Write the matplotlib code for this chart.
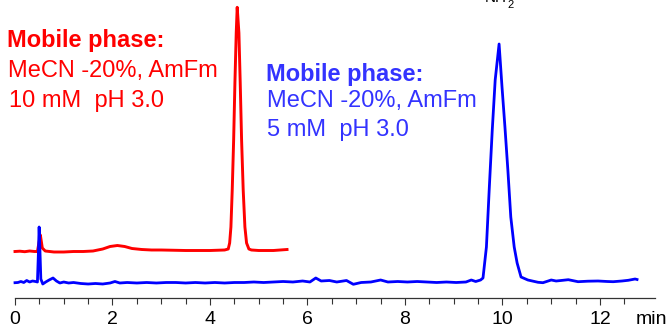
import matplotlib
matplotlib.use("Agg")
import matplotlib.pyplot as plt
import numpy as np

plt.rcParams['font.family'] = ['Liberation Sans', 'DejaVu Sans']

# red trace: MeCN 20%, AmFm 10 mM pH 3.0  (time in min, signal in arbitrary units)
red_time = [0.00, 0.10, 0.20, 0.30, 0.40, 0.46, 0.49, 0.52, 0.56, 0.62, 0.80, 1.00,
            1.20, 1.40, 1.60, 1.80, 1.95, 2.10, 2.25, 2.40, 2.60, 2.80, 3.00, 3.50,
            4.00, 4.30, 4.374, 4.403, 4.429, 4.456, 4.485, 4.511, 4.538, 4.558,
            4.593, 4.620, 4.648, 4.681, 4.716, 4.750, 4.798, 4.85, 5.00, 5.30, 5.58]
red_signal = [41.5, 41.8, 41.3, 42.0, 41.5, 41.5, 50.0, 58.0, 45.0, 42.0, 41.0, 41.0,
              41.5, 41.5, 42.0, 44.0, 46.5, 47.5, 46.5, 44.5, 43.5, 43.0, 43.0, 42.5,
              42.5, 43.0, 44.0, 50.0, 66.0, 103.0, 153.0, 210.0, 260.0, 285.7,
              260.0, 210.0, 153.0, 103.0, 66.0, 50.0, 44.0, 43.0, 42.5, 42.5, 43.5]

# blue trace: MeCN 20%, AmFm 5 mM pH 3.0
blue_time = [0.00, 0.06, 0.12, 0.18, 0.24, 0.30, 0.36, 0.42, 0.46, 0.48, 0.495, 0.51,
             0.53, 0.57, 0.63, 0.70, 0.78, 0.85, 0.92, 1.00, 1.10, 1.20, 1.35, 1.50,
             1.65, 1.80, 1.95, 2.05, 2.15, 2.30, 2.50, 2.70, 2.90, 3.10, 3.30, 3.50,
             3.70, 3.90, 4.10, 4.30, 4.50, 4.70, 4.90, 5.10, 5.30, 5.50, 5.70, 5.90,
             6.05, 6.17, 6.28, 6.45, 6.60, 6.80, 6.94, 7.10, 7.30, 7.50, 7.65, 7.85,
             8.05, 8.25, 8.45, 8.65, 8.85, 9.05, 9.25, 9.36, 9.45, 9.55, 9.60, 9.67,
             9.73, 9.79, 9.85, 9.93, 9.99, 10.05, 10.11, 10.17, 10.24, 10.30, 10.38,
             10.52, 10.73, 10.83, 11.00, 11.10, 11.20, 11.35, 11.55, 11.75, 11.96,
             12.15, 12.27, 12.45, 12.58, 12.72, 12.76]
blue_signal = [10.3, 10.5, 11.5, 10.5, 12.5, 11.0, 12.0, 11.5, 11.0, 40.0, 66.0, 45.0,
               14.0, 9.0, 11.0, 13.0, 15.0, 12.0, 10.0, 11.0, 10.0, 10.5, 9.5, 9.0,
               9.5, 9.0, 10.0, 11.5, 10.0, 10.5, 10.0, 10.5, 10.0, 10.5, 10.5, 10.0,
               10.5, 10.0, 10.5, 10.0, 10.5, 10.5, 11.0, 10.5, 11.0, 11.5, 11.0, 12.0,
               11.0, 15.0, 12.0, 12.5, 11.0, 12.5, 8.7, 10.5, 11.0, 13.0, 11.0, 11.5,
               11.0, 11.5, 11.0, 10.5, 11.0, 10.5, 11.0, 13.0, 11.5, 13.0, 15.0, 46.0,
               106.0, 163.0, 213.0, 249.0, 206.0, 166.0, 123.0, 76.0, 46.0, 30.0, 16.0,
               13.0, 10.7, 10.3, 13.0, 12.0, 12.5, 13.3, 11.3, 11.8, 12.0,
               11.5, 11.3, 12.0, 12.7, 14.0, 13.5]

major_ticks = [0, 2, 4, 6, 8, 10, 12]

fig = plt.figure(figsize=(6.72, 3.27), dpi=100)
ax = fig.add_axes([0, 0, 1, 1])

ax.plot(red_time, red_signal, color='#ff0000', lw=2.1, solid_joinstyle='round')
ax.plot(blue_time, blue_signal, color='#0000ff', lw=2.0, solid_joinstyle='round')

ax.set_xlim(-15 / 48.75, 657 / 48.75)
ax.set_ylim(-34, 293)

for s in ['top', 'left', 'right']:
    ax.spines[s].set_visible(False)
ax.spines['bottom'].set_position(('data', -5))
ax.spines['bottom'].set_bounds(0, 640 / 48.75)
ax.spines['bottom'].set_color('#333333')
ax.spines['bottom'].set_linewidth(0.9)

ax.set_yticks([])
ax.set_xticks(major_ticks)
ax.set_xticks(np.arange(0, 13, 0.5), minor=True)
ax.tick_params(axis='x', which='both', direction='out', length=4, width=0.8,
               color='#333333', labelsize=14, pad=4.5)
ax.tick_params(axis='x', which='major', length=5)

fig.text(636 / 672, 1 - 324 / 327, 'min', fontsize=14, va='baseline', ha='left')

# mobile phase labels
red_c = '#ff0000'
fig.text(7 / 672, 1 - 46.7 / 327, 'Mobile phase:', color=red_c, fontsize=17,
         fontweight='bold', va='baseline')
fig.text(8 / 672, 1 - 77.3 / 327, 'MeCN -20%, AmFm', color=red_c, fontsize=17,
         va='baseline')
fig.text(9 / 672, 1 - 107.3 / 327, '10 mM  pH 3.0', color=red_c, fontsize=17,
         va='baseline')

blue_c = '#3333ff'
fig.text(266 / 672, 1 - 81 / 327, 'Mobile phase:', color=blue_c, fontsize=17,
         fontweight='bold', va='baseline')
fig.text(267 / 672, 1 - 107.3 / 327, 'MeCN -20%, AmFm', color=blue_c, fontsize=17,
         va='baseline')
fig.text(267 / 672, 1 - 136 / 327, '5 mM  pH 3.0', color=blue_c, fontsize=17,
         va='baseline')

# structure label, clipped at the top edge as in the source image
fig.text(485 / 672, 1 - 2 / 327, 'NH', fontsize=11, va='baseline')
fig.text(507 / 672, 1 - 8.5 / 327, '2', fontsize=8, va='baseline')

fig.savefig('out.png', dpi=100)
